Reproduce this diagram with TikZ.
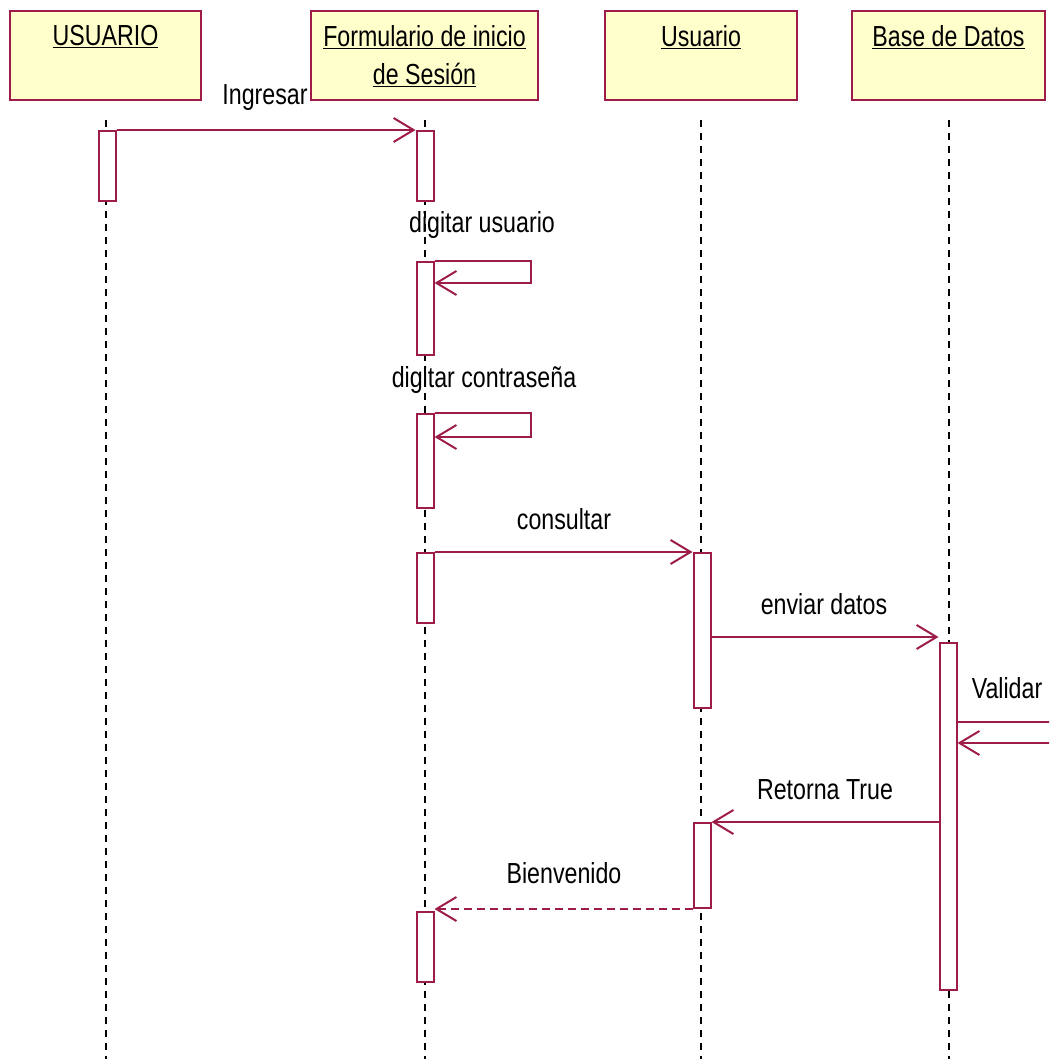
\documentclass[tikz,border=0pt]{standalone}
\usepackage{fontspec}
\setmainfont[FakeStretch=0.8]{Liberation Sans}
\usepackage{tikz}
\usetikzlibrary{arrows.meta,positioning,calc}
\usepackage{xcolor}
\definecolor{mcrim}{HTML}{9E1C4A}
\definecolor{myel}{HTML}{FFFFCC}
\tikzstyle{l1}=[line width=2]
\tikzstyle{obj}=[rectangle, draw=mcrim, fill=myel, l1, minimum height=89pt, anchor=north, inner sep=0pt]
\tikzstyle{ttl}=[inner sep=0pt, align=center, font=\fontsize{29}{38}\selectfont]
\tikzstyle{lbl}=[inner sep=0pt, font=\fontsize{29}{34}\selectfont]
\tikzstyle{act}=[rectangle, draw=mcrim, fill=white, l1, minimum width=17pt, anchor=north, inner sep=0pt]
\tikzstyle{life}=[line width=2, dash pattern=on 7pt off 6pt]
\tikzstyle{msg}=[draw=mcrim, l1, -{Straight Barb[length=20pt,width=24pt]}]
\tikzstyle{ret}=[msg, dash pattern=on 8pt off 5pt]

\begin{document}
\begin{tikzpicture}[x=1pt, y=-1pt]
    \useasboundingbox (0,0) rectangle (1049,1059);
    \clip (0,0) rectangle (1049,1059);
    \coordinate (bot) at (0,1059);

    % objects
    \node[obj, minimum width=191pt] at (105.5,10) (usr) {};
    \node[obj, minimum width=227pt] at (424.5,10) (form) {};
    \node[obj, minimum width=192pt] at (701,10) (usu) {};
    \node[obj, minimum width=193pt] at (948.5,10) (bd) {};
    \node[ttl, below=15pt of usr.north] (usrT) {\underline{USUARIO}};
    \node[ttl, below=15pt of form.north] (formT) {\underline{Formulario de inicio}\\\underline{de Sesión}};
    \node[ttl, below=15pt of usu.north] (usuT) {\underline{Usuario}};
    \node[ttl, below=15pt of bd.north] (bdT) {\underline{Base de Datos}};

    % lifelines
    \draw[life] ([yshift=-19pt]usr.south) -- (usr.south |- bot);
    \draw[life] ([yshift=-19pt]form.south) -- (form.south |- bot);
    \draw[life] ([yshift=-19pt]usu.south) -- (usu.south |- bot);
    \draw[life] ([yshift=-19pt]bd.south) -- (bd.south |- bot);

    % activations
    \node[act, minimum height=70pt] at (107,130) (uA) {};
    \node[act, minimum height=70pt] at (425,130) (fA1) {};
    \node[act, minimum height=93pt] at (425,261) (fA2) {};
    \node[act, minimum height=94pt] at (425,413) (fA3) {};
    \node[act, minimum height=70pt] at (425,552) (fA4) {};
    \node[act, minimum height=70pt] at (425,911) (fA5) {};
    \node[act, minimum height=155pt] at (702,552) (vA1) {};
    \node[act, minimum height=85pt] at (702,822) (vA2) {};
    \node[act, minimum height=347pt] at (948,642) (bA) {};

    % messages
    \draw[msg] (uA.north east) -- (fA1.north west);
    \node[lbl] at (265,98) (lIng) {Ingresar};

    \coordinate (du1) at (531,261); \coordinate (du2) at (531,283);
    \draw[msg] (fA2.north east) -- (du1) -- (du2) -- (fA2.east |- du2);
    \node[lbl] at (482,225) (lDu) {digitar usuario};

    \coordinate (dc1) at (531,413); \coordinate (dc2) at (531,437);
    \draw[msg] (fA3.north east) -- (dc1) -- (dc2) -- (fA3.east |- dc2);
    \node[lbl] at (484,380) (lDc) {digitar contraseña};

    \draw[msg] (fA4.north east) -- (vA1.north west);
    \node[lbl] at (564,519) (lCon) {consultar};

    \coordinate (ed) at ([yshift=5pt]bA.north west);
    \draw[msg] (vA1.east |- ed) -- (ed);
    \node[lbl] at (824,604) (lEnv) {enviar datos};

    \coordinate (va1) at (1070,722); \coordinate (va2) at (1070,743);
    \draw[msg] (bA.east |- va1) -- (va1) -- (va2) -- (bA.east |- va2);
    \node[lbl] at (1007,688) (lVal) {Validar};

    \draw[msg] (bA.west |- vA2.north east) -- (vA2.north east);
    \node[lbl] at (825,790) (lRet) {Retorna True};

    \draw[ret] (vA2.south west) -- (fA5.east |- vA2.south west);
    \node[lbl] at (564,873) (lBien) {Bienvenido};
\end{tikzpicture}
\end{document}
